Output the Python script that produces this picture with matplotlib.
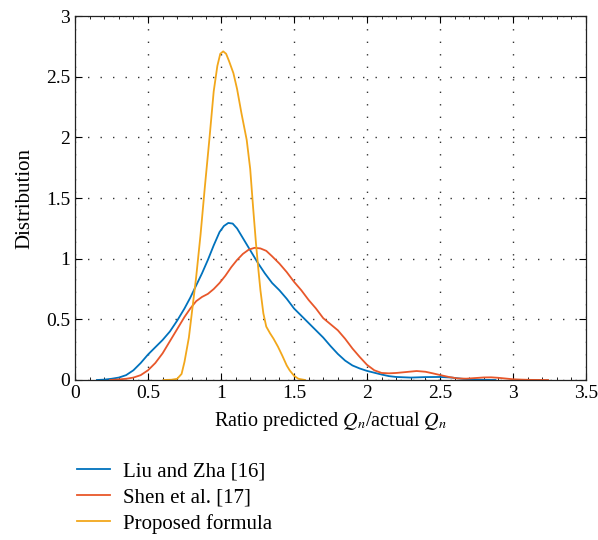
import matplotlib
matplotlib.use("Agg")
import matplotlib.pyplot as plt
from matplotlib.ticker import MultipleLocator

plt.rcParams['font.family'] = ['Liberation Serif', 'DejaVu Serif']
plt.rcParams['mathtext.fontset'] = 'stix'

# ---- data ----
liu_x = [0.15, 0.20, 0.25, 0.30, 0.35, 0.40, 0.45, 0.50, 0.55, 0.60, 0.65, 0.70,
         0.75, 0.79, 0.83, 0.87, 0.91, 0.95, 0.99, 1.02, 1.05, 1.08, 1.11, 1.15,
         1.20, 1.25, 1.30, 1.35, 1.40, 1.45, 1.50, 1.55, 1.60, 1.65, 1.70, 1.75,
         1.80, 1.85, 1.90, 1.95, 2.00, 2.05, 2.10, 2.15, 2.20, 2.30, 2.40, 2.50,
         2.58, 2.65, 2.72, 2.80, 2.88]
liu_y = [0.00, 0.003, 0.01, 0.02, 0.04, 0.08, 0.14, 0.21, 0.27, 0.33, 0.40, 0.49,
         0.59, 0.68, 0.78, 0.88, 0.99, 1.11, 1.22, 1.27, 1.295, 1.29, 1.25, 1.17,
         1.07, 0.97, 0.88, 0.80, 0.74, 0.67, 0.59, 0.53, 0.47, 0.41, 0.35, 0.28,
         0.215, 0.16, 0.12, 0.095, 0.075, 0.06, 0.045, 0.032, 0.025, 0.02, 0.024, 0.025,
         0.02, 0.01, 0.004, 0.001, 0.00]

shen_x = [0.24, 0.30, 0.35, 0.40, 0.45, 0.50, 0.55, 0.60, 0.65, 0.70, 0.75, 0.79,
          0.83, 0.87, 0.91, 0.95, 0.99, 1.03, 1.07, 1.11, 1.15, 1.19, 1.23, 1.27,
          1.31, 1.35, 1.40, 1.45, 1.50, 1.55, 1.60, 1.65, 1.70, 1.75, 1.80, 1.85,
          1.90, 1.95, 2.00, 2.05, 2.10, 2.15, 2.20, 2.27, 2.34, 2.40, 2.45, 2.50,
          2.56, 2.62, 2.68, 2.74, 2.80, 2.85, 2.90, 2.95, 3.00, 3.06, 3.12, 3.24]
shen_y = [0.00, 0.005, 0.01, 0.02, 0.04, 0.08, 0.14, 0.22, 0.32, 0.42, 0.52, 0.59,
          0.65, 0.685, 0.71, 0.75, 0.80, 0.86, 0.93, 0.99, 1.04, 1.075, 1.09, 1.085,
          1.065, 1.02, 0.96, 0.89, 0.81, 0.74, 0.66, 0.59, 0.51, 0.46, 0.41, 0.34,
          0.26, 0.19, 0.125, 0.08, 0.058, 0.055, 0.058, 0.066, 0.074, 0.068, 0.055, 0.041,
          0.025, 0.013, 0.011, 0.016, 0.021, 0.022, 0.018, 0.012, 0.006, 0.003, 0.001, 0.00]

prop_x = [0.605, 0.66, 0.70, 0.73, 0.75, 0.78, 0.80, 0.83, 0.86, 0.89, 0.92, 0.95,
          0.975, 0.995, 1.015, 1.035, 1.055, 1.085, 1.11, 1.14, 1.176, 1.20, 1.22,
          1.24, 1.256, 1.27, 1.29, 1.31, 1.336, 1.36, 1.39, 1.42, 1.45, 1.47, 1.50,
          1.53, 1.575]
prop_y = [0.00, 0.002, 0.01, 0.05, 0.15, 0.35, 0.55, 0.85, 1.20, 1.60, 1.98, 2.38,
          2.59, 2.69, 2.71, 2.69, 2.63, 2.53, 2.40, 2.20, 1.98, 1.74, 1.42,
          1.12, 0.91, 0.74, 0.55, 0.44, 0.385, 0.34, 0.275, 0.20, 0.12, 0.08, 0.035,
          0.01, 0.00]

labels = ['Liu and Zha [16]', 'Shen et al. [17]', 'Proposed formula']
colors = ['#0072BD', '#E8572A', '#F2A71B']
xticks = [0, 0.5, 1, 1.5, 2, 2.5, 3, 3.5]
xtick_labels = ['0', '0.5', '1', '1.5', '2', '2.5', '3', '3.5']
yticks = [0, 0.5, 1, 1.5, 2, 2.5, 3]
ytick_labels = ['0', '0.5', '1', '1.5', '2', '2.5', '3']

fig = plt.figure(figsize=(5.98, 5.40), dpi=100)
ax = fig.add_axes([0.1254, 0.2963, 0.8546, 0.6737])

ax.plot(liu_x, liu_y, color=colors[0], lw=1.3, label=labels[0])
ax.plot(shen_x, shen_y, color=colors[1], lw=1.3, label=labels[1])
ax.plot(prop_x, prop_y, color=colors[2], lw=1.3, label=labels[2])

ax.set_xlim(0, 3.5)
ax.set_ylim(0, 3)
ax.set_xticks(xticks)
ax.set_xticklabels(xtick_labels)
ax.xaxis.set_minor_locator(MultipleLocator(0.1))
ax.set_yticks(yticks)
ax.set_yticklabels(ytick_labels)
ax.tick_params(which='both', direction='in', top=True, right=True, labelsize=14)
ax.tick_params(which='major', length=5, width=0.8)
ax.tick_params(which='minor', length=2.5, width=0.6)
ax.tick_params(axis='y', which='minor', left=False, right=False)
for s in ax.spines.values():
    s.set_linewidth(0.9)
    s.set_color('#222222')

ax.grid(True, which='major', color='#333333', linestyle=(0, (1, 8)), linewidth=1.0)

ax.set_xlabel(r'Ratio predicted $Q_n$/actual $Q_n$', fontsize=14.5, labelpad=6)
ax.set_ylabel('Distribution', fontsize=15, labelpad=8)

fig.legend(loc='upper left', bbox_to_anchor=(0.115, 0.16), frameon=False,
           fontsize=15, handlelength=1.6, handletextpad=0.6, labelspacing=0.3,
           borderaxespad=0)

fig.savefig('out.png', dpi=100)
